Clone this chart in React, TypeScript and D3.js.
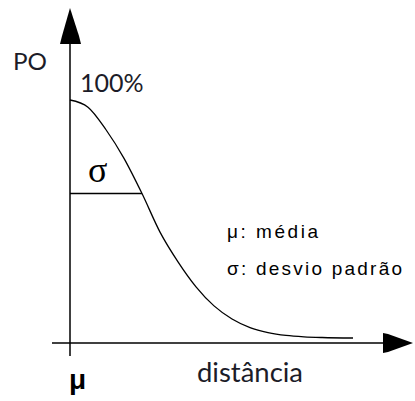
import React from "react";
import * as d3 from "d3";

// Distance from the mean, in units of σ, and the PO level read at each distance (%)
const distanceSigma = [0, 0.25, 0.5, 0.75, 1, 1.25, 1.5, 1.75, 2, 2.25, 2.5, 2.75, 3, 3.25, 3.5, 3.93];
const poPercent = [100, 97, 87.5, 75.5, 60.7, 44.5, 32, 21.5, 13.5, 8, 4.4, 2.3, 1.1, 0.5, 0.2, 0];

// Text on the chart
const yAxisLabel = "PO";
const peakLabel = "100%";
const xAxisLabel = "distância";
const meanSymbol = "μ";
const sigmaSymbol = "σ";
const legendLines = ["μ: média", "σ: desvio padrão"];

const W = 415;
const H = 401;

export default function App() {
  const x = d3.scaleLinear().domain([0, 3.93]).range([70, 353]);
  const y = d3.scaleLinear().domain([0, 100]).range([338, 100]);

  const points: [number, number][] = distanceSigma.map((d, i) => [d, poPercent[i]]);
  const line = d3
    .line<[number, number]>()
    .x((d) => x(d[0]))
    .y((d) => y(d[1]))
    .curve(d3.curveMonotoneX);

  const x0 = x(0);
  const axisY = y(0) + 5;
  const sigmaIdx = distanceSigma.indexOf(1);
  const sigmaY = y(poPercent[sigmaIdx]);

  const calibriLike = "Lato, 'Open Sans', sans-serif";
  const pixelFont = "'Liberation Sans', Arial, sans-serif";

  return (
    <svg
      width={W}
      height={H}
      viewBox={`0 0 ${W} ${H}`}
      style={{ position: "absolute", left: 0, top: 0, background: "#fff" }}
    >
      <rect x={0} y={0} width={W} height={H} fill="#fff" />

      {/* vertical axis with arrow */}
      <line x1={x0} x2={x0} y1={40} y2={356} stroke="#000" strokeWidth={1.5} />
      <polygon
        points={`${x0},8 ${x0 + 9},36 ${x0 + 11},44 ${x0 - 10},44 ${x0 - 8},36`}
        fill="#000"
      />

      {/* horizontal axis with arrow */}
      <line x1={52} x2={388} y1={axisY} y2={axisY} stroke="#000" strokeWidth={1.5} />
      <polygon
        points={`383,${axisY - 10} 388,${axisY - 9} 413,${axisY} 388,${axisY + 9} 383,${axisY + 10}`}
        fill="#000"
      />

      {/* PO curve */}
      <path d={line(points) ?? ""} fill="none" stroke="#000" strokeWidth={1.3} />

      {/* σ level marker */}
      <line x1={x0} x2={x(1)} y1={sigmaY} y2={sigmaY} stroke="#000" strokeWidth={1.5} />
      <text x={88} y={182} fontFamily="'Liberation Serif', 'Times New Roman', serif" fontSize={36} fill="#000">
        {sigmaSymbol}
      </text>

      {/* labels */}
      <text x={13} y={70} fontFamily={calibriLike} fontSize={24} fill="#1c1c28" textLength={34} lengthAdjust="spacingAndGlyphs">
        {yAxisLabel}
      </text>
      <text x={80} y={92} fontFamily={calibriLike} fontSize={25} fill="#1c1c28">
        {peakLabel}
      </text>
      <text x={197} y={382} fontFamily={calibriLike} fontSize={26} fill="#1c1c28" textLength={106} lengthAdjust="spacingAndGlyphs">
        {xAxisLabel}
      </text>
      <text x={69} y={389} fontFamily={pixelFont} fontWeight="bold" fontSize={28} fill="#000">
        {meanSymbol}
      </text>

      {/* legend */}
      <text x={227} y={238} fontFamily={pixelFont} fontSize={19} fill="#000" textLength={91} lengthAdjust="spacing">
        {legendLines[0]}
      </text>
      <text x={227} y={275} fontFamily={pixelFont} fontSize={19} fill="#000" textLength={175} lengthAdjust="spacing">
        {legendLines[1]}
      </text>
    </svg>
  );
}
